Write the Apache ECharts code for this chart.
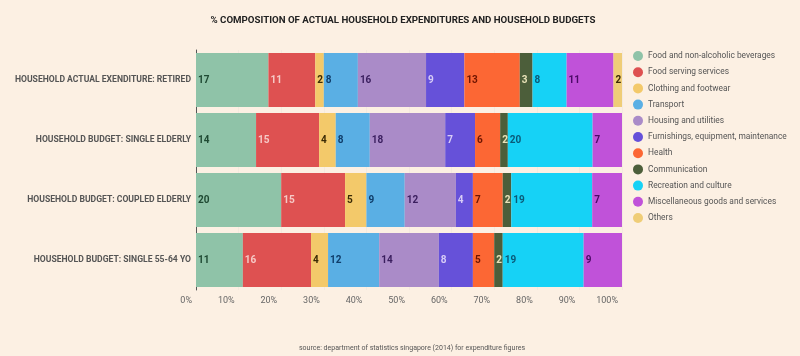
<!DOCTYPE html>
<html>
<head>
<meta charset="utf-8">
<script src="https://cdn.jsdelivr.net/npm/echarts@6/dist/echarts.min.js"></script>
<style>html,body{margin:0;padding:0;background:#fcf0e3;}#c{width:800px;height:356px;}</style>
</head>
<body>
<div id="c"></div>
<script>
var categories = ["HOUSEHOLD ACTUAL EXENDITURE: RETIRED", "HOUSEHOLD BUDGET: SINGLE ELDERLY", "HOUSEHOLD BUDGET: COUPLED ELDERLY", "HOUSEHOLD BUDGET: SINGLE 55-64 YO"];
var seriesNames = ["Food and non-alcoholic beverages", "Food serving services", "Clothing and footwear", "Transport", "Housing and utilities", "Furnishings, equipment, maintenance", "Health", "Communication", "Recreation and culture", "Miscellaneous goods and services", "Others"];
var foodBev = [17, 14.1, 20, 11];
var foodServing = [11, 14.8, 15, 16];
var clothing = [2, 3.9, 5, 4];
var transport = [8, 8, 9, 12];
var housing = [16, 17.7, 12, 14];
var furnishings = [9, 7, 4, 8];
var health = [13, 5.9, 7, 5];
var communication = [3, 1.8, 2, 2];
var recreation = [8, 19.9, 19, 19];
var misc = [11, 6.9, 7, 9];
var others = [2, 0, 0, 0];
var xTicks = ["0%", "10%", "20%", "30%", "40%", "50%", "60%", "70%", "80%", "90%", "100%"];

var values = [foodBev, foodServing, clothing, transport, housing, furnishings, health, communication, recreation, misc, others];
var colors = ["#8fc3a8", "#de5151", "#f3c96a", "#5aafe4", "#aa8bc8", "#6651d9", "#fc6734", "#4c5e3a", "#16d2f6", "#c052d9", "#efcd77"];
var labelColors = ["#1f4a33", "#f6c9c6", "#3a2a05", "#0f3d6a", "#3a1e5e", "#d8cdf6", "#6e1400", "#e9e2b8", "#0a5a78", "#4a0a66", "#3a2a05"];

var series = seriesNames.map(function (name, i) {
  return {
    name: name,
    type: 'bar',
    stack: 'total',
    barCategoryGap: '10%',
    data: values[i],
    itemStyle: { color: colors[i] },
    label: {
      show: true,
      position: 'insideLeft',
      distance: 2,
      color: labelColors[i],
      fontSize: 10,
      fontWeight: 'bold',
      fontFamily: 'Roboto',
      formatter: function (p) { return p.value > 0 ? Math.round(p.value) : ''; }
    }
  };
});

var chart = echarts.init(document.getElementById('c'), null, { renderer: 'canvas' });
chart.setOption({
  backgroundColor: '#fcf0e3',
  animation: false,
  title: [{
    text: '% COMPOSITION OF ACTUAL HOUSEHOLD EXPENDITURES AND HOUSEHOLD BUDGETS',
    left: 398, top: 11, textAlign: 'center',
    textStyle: { fontSize: 9.7, fontWeight: 'bold', color: '#222', fontFamily: 'Roboto' }
  }, {
    text: 'source: department of statistics singapore (2014) for expenditure figures',
    left: 407, top: 340, textAlign: 'center',
    textStyle: { fontSize: 7, fontWeight: 'normal', color: '#555', fontFamily: 'Roboto' }
  }],
  legend: {
    orient: 'vertical',
    left: 628, top: 46,
    itemGap: 6.2,
    itemWidth: 10, itemHeight: 10,
    icon: 'circle',
    data: seriesNames,
    textStyle: { fontSize: 8.4, color: '#555', fontFamily: 'Roboto' },
    selectedMode: false
  },
  grid: { left: 196, right: 178, top: 50, bottom: 66, containLabel: false },
  xAxis: {
    type: 'value', min: 0, max: 100, interval: 10,
    axisLine: { show: false },
    axisTick: { show: false },
    splitLine: { show: true, lineStyle: { color: '#f4eadf', width: 1 } },
    axisLabel: {
      color: '#666', fontSize: 9, fontFamily: 'Roboto', align: 'right', margin: 6,
      padding: [0, 4, 0, 0],
      formatter: function (v) { return xTicks[Math.round(v / 10)]; }
    }
  },
  yAxis: {
    type: 'category', inverse: true, data: categories,
    axisLine: { show: true, lineStyle: { color: '#555', width: 1 } },
    axisTick: { show: false },
    axisLabel: { color: '#555', fontSize: 8.6, fontWeight: 'bold', fontFamily: 'Roboto', margin: 5 }
  },
  series: series
});
</script>
</body>
</html>
